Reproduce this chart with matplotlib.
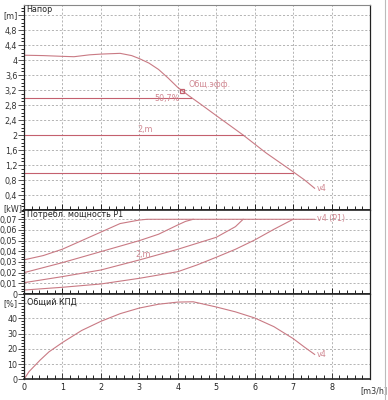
import numpy as np
import matplotlib
matplotlib.use("Agg")
import matplotlib.pyplot as plt
from matplotlib.ticker import MultipleLocator
from matplotlib.lines import Line2D

CURVE = "#c97a84"
HLINE = "#c4606e"
LABEL = "#d08892"
GRID = "#a8a8a8"
GRID_LS = (0, (2.5, 2.2))

# head curve v4 (Q m3/h, H m)
head_q = [0.0, 0.5, 1.0, 1.3, 1.7, 2.0, 2.5, 2.8, 3.0, 3.25, 3.5, 3.75, 4.0, 4.3, 4.6, 5.0, 5.7, 6.3, 7.0, 7.3, 7.56]
head_h = [4.13, 4.12, 4.10, 4.09, 4.14, 4.16, 4.18, 4.12, 4.04, 3.92, 3.75, 3.52, 3.27, 3.04, 2.82, 2.52, 2.0, 1.52, 1.02, 0.80, 0.58]
duty_q, duty_h = 4.12, 3.18
hline_h = [3.0, 2.0, 1.0]
hline_q = [4.35, 5.7, 7.0]

# power curves P1 (kW)
pA_q = [0.0, 0.5, 1.0, 1.5, 2.0, 2.5, 3.0, 3.2, 7.56]
pA_p = [0.032, 0.036, 0.042, 0.050, 0.058, 0.066, 0.0693, 0.070, 0.070]
pB_q = [0.0, 1.0, 2.0, 3.0, 3.5, 4.0, 4.2, 4.4]
pB_p = [0.020, 0.0294, 0.0397, 0.050, 0.056, 0.0647, 0.068, 0.070]
pC_q = [0.0, 1.0, 2.0, 3.0, 4.0, 5.0, 5.5, 5.7]
pC_p = [0.0106, 0.0163, 0.0225, 0.0319, 0.0419, 0.0531, 0.0631, 0.070]
pD_q = [0.0, 1.0, 2.0, 3.0, 4.0, 4.5, 5.0, 5.5, 6.0, 6.5, 7.0]
pD_p = [0.0037, 0.0063, 0.0094, 0.0147, 0.0209, 0.0272, 0.0344, 0.0419, 0.0506, 0.0606, 0.070]

# total efficiency (%)
eff_q = [0.0, 0.13, 0.42, 0.65, 1.0, 1.5, 2.0, 2.5, 3.0, 3.5, 4.0, 4.4, 5.0, 5.5, 6.0, 6.5, 7.0, 7.3, 7.56]
eff_e = [0.0, 5.0, 12.6, 18.0, 24.1, 32.0, 38.0, 43.0, 46.7, 49.2, 50.6, 50.8, 47.4, 44.2, 40.2, 34.5, 26.7, 21.0, 16.3]

fig = plt.figure(figsize=(3.88, 4.0), dpi=100)
L, R = 24 / 388, 370 / 388
W = R - L
ax1 = fig.add_axes([L, 1 - 210 / 400, W, 205 / 400])
ax2 = fig.add_axes([L, 1 - 294 / 400, W, 84 / 400])
ax3 = fig.add_axes([L, 1 - 379.3 / 400, W, 85.3 / 400])

FS = 5.8


def comma(v):
    s = f"{v:.2f}".rstrip("0").rstrip(".")
    return s.replace(".", ",")


for ax in (ax1, ax2, ax3):
    ax.set_xlim(0, 9)
    ax.xaxis.set_major_locator(MultipleLocator(1))
    ax.xaxis.set_minor_locator(MultipleLocator(0.2))
    ax.tick_params(axis="x", which="both", direction="in", top=False, labelbottom=False)
    ax.tick_params(axis="x", which="major", length=4, width=0.6)
    ax.tick_params(axis="x", which="minor", length=3, width=0.6)
    ax.tick_params(axis="y", which="major", length=4, width=0.6, labelsize=FS, pad=0.8, colors="#333333")
    ax.tick_params(axis="y", which="minor", length=2, width=0.6)
    for x in range(1, 9):
        ax.axvline(x, color=GRID, lw=0.6, ls=GRID_LS, zorder=0)
    for s in ("left", "right"):
        ax.spines[s].set_color("#222222")
        ax.spines[s].set_linewidth(0.9)
    ax.spines["top"].set_color("#222222")
    ax.spines["top"].set_linewidth(1.2)
    ax.spines["bottom"].set_color("#222222")
    ax.spines["bottom"].set_linewidth(1.2)
ax1.spines["top"].set_color("#888888")
ax1.spines["top"].set_linewidth(0.8)

# --- head panel
ax1.set_ylim(0, 5.47)
t1 = [0.4 * i for i in range(1, 14)]
ax1.set_yticks(t1)
ax1.set_yticklabels([comma(v) for v in t1[:-1]] + ["[m]"])
ax1.yaxis.set_minor_locator(MultipleLocator(0.1))
for v in t1:
    ax1.axhline(v, color=GRID, lw=0.6, ls=GRID_LS, zorder=0)
ax1.plot(head_q, head_h, color=CURVE, lw=0.8)
for h, q in zip(hline_h, hline_q):
    ax1.plot([0, q], [h, h], color=HLINE, lw=0.8)
ax1.plot([duty_q], [duty_h], marker="s", ms=3.5, mfc="none", mec=HLINE, mew=0.9)
ax1.text(duty_q + 0.15, duty_h + 0.05, "Общ.эфф.", color=LABEL, fontsize=FS, va="bottom")
ax1.text(4.05, 2.97, "50,7%", color=LABEL, fontsize=FS, ha="right", va="center")
ax1.text(3.15, 2.04, "2,m", color=LABEL, fontsize=FS, ha="center", va="bottom")
ax1.text(7.62, 0.58, "v4", color=LABEL, fontsize=FS, ha="left", va="center")
ax1.text(0.07, 5.35, "Напор", fontsize=FS, color="#222222", va="center")

# --- power panel
ax2.set_ylim(0, 0.0787)
t2 = [0.01 * i for i in range(0, 8)]
ax2.set_yticks(t2)
ax2.set_yticklabels(["0"] + [comma(v) for v in t2[1:]])
ax2.yaxis.set_minor_locator(MultipleLocator(0.0025))
for v in t2[1:]:
    ax2.axhline(v, color=GRID, lw=0.6, ls=GRID_LS, zorder=0)
for q, p in ((pA_q, pA_p), (pB_q, pB_p), (pC_q, pC_p), (pD_q, pD_p)):
    ax2.plot(q, p, color=CURVE, lw=0.8)
ax2.text(7.62, 0.0703, "v4 (P1)", color=LABEL, fontsize=FS, ha="left", va="center")
ax2.text(3.1, 0.0325, "2,m", color=LABEL, fontsize=FS, ha="center", va="bottom")
ax2.text(0.07, 0.0745, "Потребл. мощность P1", fontsize=FS, color="#222222", va="center")
ax2.text(-0.005, 1.02, "[kW]", transform=ax2.transAxes, fontsize=FS, color="#333333",
         ha="right", va="center")

# --- efficiency panel
ax3.set_ylim(0, 55.9)
t3 = [0, 10, 20, 30, 40, 50]
ax3.set_yticks(t3)
ax3.set_yticklabels(["0", "10", "20", "30", "40", "[%]"])
ax3.yaxis.set_minor_locator(MultipleLocator(2))
for v in t3[1:]:
    ax3.axhline(v, color=GRID, lw=0.6, ls=GRID_LS, zorder=0)
ax3.plot(eff_q, eff_e, color=CURVE, lw=0.8)
ax3.text(7.62, 16.3, "v4", color=LABEL, fontsize=FS, ha="left", va="center")
ax3.text(0.07, 50.5, "Общий КПД", fontsize=FS, color="#222222", va="center")
ax3.tick_params(axis="x", labelbottom=True, labelsize=FS, pad=3, colors="#222222")
ax3.set_xticks(range(0, 9))
ax3.set_xticklabels([str(i) for i in range(0, 9)])
ax3.text(9.1, -0.085, "[m3/h]", transform=ax3.get_xaxis_transform(), fontsize=FS,
         ha="center", va="top", color="#333333")

fig.add_artist(Line2D([385 / 388, 385 / 388], [0, 1], color="#bbbbbb", lw=0.8))

fig.savefig("out.png", dpi=100)
